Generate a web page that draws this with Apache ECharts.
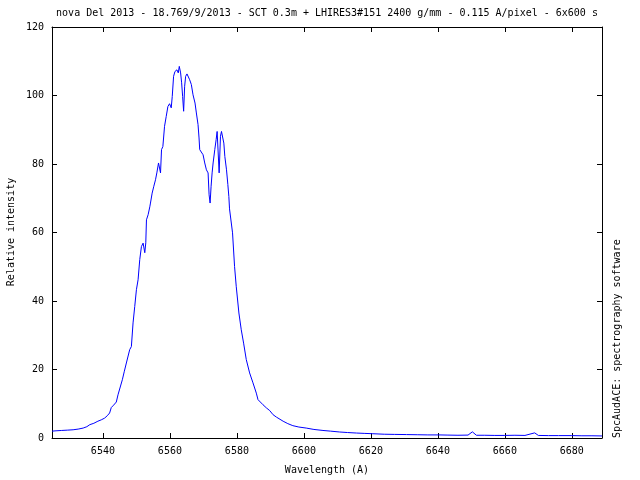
<!DOCTYPE html>
<html>
<head>
<meta charset="utf-8">
<script src="https://cdn.jsdelivr.net/npm/echarts@6/dist/echarts.min.js"></script>
<style>
html,body{margin:0;padding:0;background:#fff;}
#chart{width:640px;height:480px;}
</style>
</head>
<body>
<div id="chart"></div>
<script>
var titleText = 'nova Del 2013 - 18.769/9/2013 - SCT 0.3m + LHIRES3#151 2400 g/mm - 0.115 A/pixel - 6x600 s';
var xLabel = 'Wavelength (A)';
var yLabel = 'Relative intensity';
var sideLabel = 'SpcAudACE: spectrography software';
var xTicks = [6540, 6560, 6580, 6600, 6620, 6640, 6660, 6680];
var xMin = 6524.8, xMax = 6689;
var yMin = 0, yMax = 120, yStep = 20;

var wavelength = [
 6524.8, 6526.0, 6527.7, 6529.5, 6531.1, 6532.6, 6534.1, 6535.2, 6536.1, 6537.3, 6538.5, 6539.5,
 6540.5, 6541.3, 6542.0, 6542.5, 6543.2, 6543.7, 6544.0, 6544.5, 6545.0, 6545.8, 6546.4, 6547.0,
 6548.0, 6548.5, 6549.0, 6549.5, 6550.0, 6550.5, 6551.0, 6551.5, 6552.0, 6552.5, 6552.8, 6553.0,
 6553.5, 6554.0, 6554.2, 6554.7, 6555.2, 6555.7, 6556.1, 6556.6, 6557.2, 6557.5, 6557.9, 6558.4,
 6558.9, 6559.4, 6559.9, 6560.4, 6560.7, 6561.1, 6561.5, 6562.1, 6562.5, 6562.8, 6563.0, 6563.2,
 6563.5, 6563.8, 6564.1, 6564.4, 6564.7, 6565.1, 6565.5, 6565.9, 6566.4, 6566.9, 6567.5, 6567.9,
 6568.4, 6568.7, 6568.9, 6569.4, 6569.9, 6570.4, 6570.9, 6571.4, 6571.7, 6572.0, 6572.3, 6572.6,
 6572.9, 6573.4, 6573.8, 6574.1, 6574.5, 6574.7, 6575.1, 6575.4, 6575.7, 6576.1, 6576.4, 6576.9,
 6577.3, 6577.6, 6577.8, 6578.7, 6579.3, 6579.8, 6580.6, 6581.3, 6582.0, 6582.8, 6583.8, 6584.8,
 6585.8, 6586.3, 6586.6, 6587.8, 6588.8, 6589.8, 6590.8, 6591.8, 6593.8, 6595.2, 6596.7, 6598.5,
 6600.7, 6603.0, 6605.7, 6608.0, 6610.7, 6613.0, 6615.7, 6618.0, 6620.6, 6624.0, 6627.0, 6630.6,
 6634.0, 6637.0, 6640.3, 6643.0, 6646.0, 6649.0, 6650.3, 6651.5, 6654.0, 6657.0, 6660.0, 6663.0,
 6666.0, 6668.9, 6670.0, 6673.0, 6676.0, 6680.0, 6683.0, 6686.0, 6689.0
];
var intensity = [
 2.0, 2.1, 2.2, 2.3, 2.4, 2.6, 2.9, 3.3, 3.9, 4.3, 4.9, 5.3,
 5.8, 6.5, 7.3, 8.9, 9.6, 9.8, 10.5, 12.6, 14.3, 17.0, 19.5, 21.9,
 25.8, 26.7, 33.6, 38.4, 43.3, 46.2, 52.1, 55.9, 56.9, 54.1, 57.0, 63.7,
 65.2, 67.5, 68.6, 71.5, 73.5, 75.4, 77.4, 80.3, 77.4, 84.2, 85.1, 91.0,
 93.9, 96.8, 97.6, 96.4, 99.7, 105.6, 107.0, 107.5, 106.6, 108.5, 109.0, 106.6,
 103.7, 99.7, 95.4, 102.7, 105.6, 106.3, 105.8, 104.6, 103.2, 100.2, 97.8, 94.9,
 91.5, 87.6, 84.2, 84.0, 82.7, 80.3, 78.3, 77.4, 71.0, 68.6, 73.5, 77.4,
 80.3, 84.2, 87.1, 89.5, 90.0, 77.4, 88.1, 89.5, 89.5, 86.1, 82.2, 78.3,
 74.0, 70.5, 66.9, 59.9, 50.1, 44.3, 36.5, 31.6, 27.7, 22.9, 19.0, 16.1,
 13.1, 11.2, 11.6, 9.7, 8.8, 8.0, 6.8, 6.1, 4.9, 4.2, 3.6, 3.2,
 2.9, 2.5, 2.2, 2.0, 1.75, 1.6, 1.45, 1.35, 1.25, 1.1, 1.05, 1.0,
 0.95, 0.9, 0.9, 0.85, 0.8, 0.85, 1.8, 0.8, 0.8, 0.75, 0.75, 0.8,
 0.75, 1.5, 0.75, 0.7, 0.7, 0.7, 0.65, 0.65, 0.6
];

var font = '10px "DejaVu Sans Mono", monospace';
var fontFamily = '"DejaVu Sans Mono", monospace';
var plain = function (v) { return String(v); };

var seriesData = wavelength.map(function (w, i) { return [w, intensity[i]]; });

var chart = echarts.init(document.getElementById('chart'), null, {renderer: 'canvas'});
var axisLineStyle = {color: '#000', width: 1};
chart.setOption({
  animation: false,
  backgroundColor: '#fff',
  grid: {left: 52, right: 38, top: 27, bottom: 42, containLabel: false},
  xAxis: [{
    type: 'value', min: xMin, max: xMax, position: 'bottom',
    axisLine: {show: true, onZero: false, lineStyle: axisLineStyle},
    axisTick: {show: true, inside: true, length: 5, lineStyle: axisLineStyle, customValues: xTicks},
    axisLabel: {show: true, margin: 8, color: '#000', fontFamily: fontFamily, fontSize: 10, customValues: xTicks, formatter: plain},
    splitLine: {show: false}
  }, {
    type: 'value', min: xMin, max: xMax, position: 'top',
    axisLine: {show: true, onZero: false, lineStyle: axisLineStyle},
    axisTick: {show: true, inside: true, length: 5, lineStyle: axisLineStyle, customValues: xTicks},
    axisLabel: {show: false},
    splitLine: {show: false}
  }],
  yAxis: [{
    type: 'value', min: yMin, max: yMax, interval: yStep, position: 'left',
    axisLine: {show: true, onZero: false, lineStyle: axisLineStyle},
    axisTick: {show: true, inside: true, length: 5, lineStyle: axisLineStyle},
    axisLabel: {show: true, margin: 8, color: '#000', fontFamily: fontFamily, fontSize: 10, formatter: plain},
    splitLine: {show: false}
  }, {
    type: 'value', min: yMin, max: yMax, interval: yStep, position: 'right',
    axisLine: {show: true, onZero: false, lineStyle: axisLineStyle},
    axisTick: {show: true, inside: true, length: 5, lineStyle: axisLineStyle},
    axisLabel: {show: false},
    splitLine: {show: false}
  }],
  series: [{
    type: 'line', xAxisIndex: 0, yAxisIndex: 0,
    data: seriesData, showSymbol: false, symbol: 'none',
    lineStyle: {color: '#0000ff', width: 1},
    itemStyle: {color: '#0000ff'}
  }],
  graphic: [
    {type: 'text', x: 327, y: 13, style: {text: titleText, font: font, fill: '#000', align: 'center', verticalAlign: 'middle', textAlign: 'center', textVerticalAlign: 'middle'}},
    {type: 'text', x: 327, y: 470, style: {text: xLabel, font: font, fill: '#000', align: 'center', verticalAlign: 'middle', textAlign: 'center', textVerticalAlign: 'middle'}},
    {type: 'text', x: 11, y: 232, rotation: Math.PI / 2, style: {text: yLabel, font: font, fill: '#000', align: 'center', verticalAlign: 'middle', textAlign: 'center', textVerticalAlign: 'middle'}},
    {type: 'text', x: 617, y: 438, rotation: Math.PI / 2, style: {text: sideLabel, font: font, fill: '#000', align: 'left', verticalAlign: 'middle', textAlign: 'left', textVerticalAlign: 'middle'}}
  ]
});
</script>
</body>
</html>
